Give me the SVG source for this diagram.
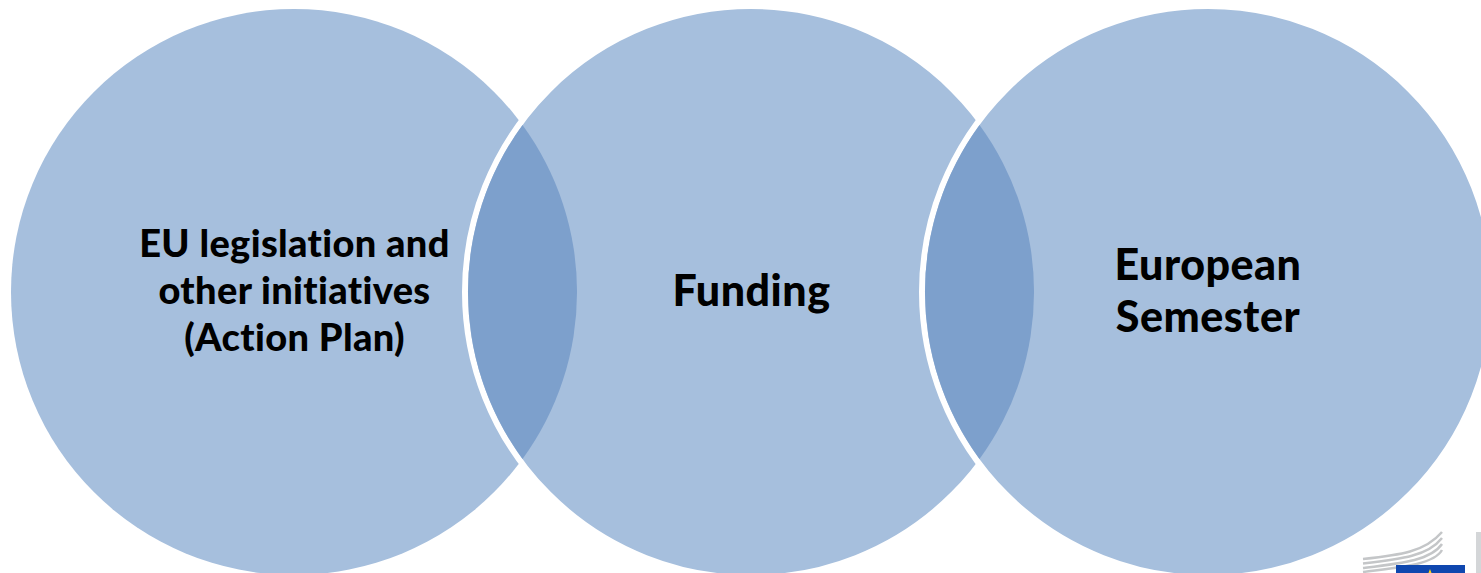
<svg xmlns="http://www.w3.org/2000/svg" width="1481" height="573" viewBox="0 0 1481 573">
<style>
.c{fill:#a6bfdd}
.s{stroke:#fff;stroke-width:6}
.l{fill:#7da0cc}
text{font-family:"Lato","Carlito","Open Sans",sans-serif;font-weight:900;fill:#000;text-anchor:middle;font-variant-ligatures:none}
.a{font-size:38px;letter-spacing:.35px}
.b{font-size:43px;letter-spacing:.5px}
.g{fill:none;stroke:#c4c6c8;stroke-width:2.500}
</style>
<rect width="1481" height="573" fill="#fff"/>
<g id="node-legislation"><circle class="c" cx="294" cy="292" r="283"/></g>
<g id="node-funding"><circle class="c s" cx="751" cy="292" r="286"/></g>
<g id="node-semester"><circle class="c s" cx="1208" cy="292" r="286"/></g>
<g id="overlaps">
<path class="l" d="M522.5 125A283 283 0 0 1 522.5 459A283 283 0 0 1 522.5 125Z"/>
<path class="l" d="M979.5 125A283 283 0 0 1 979.5 459A283 283 0 0 1 979.5 125Z"/>
</g>
<g id="labels">
<text class="a" x="294.500" y="257">EU legislation and</text>
<text class="a" x="294.500" y="304">other initiatives</text>
<text class="a" x="294.500" y="351">(Action Plan)</text>
<text class="b" x="751.500" y="306">Funding</text>
<text class="b" x="1208" y="280">European</text>
<text class="b" x="1208" y="332">Semester</text>
</g>
<g id="logo">
<path class="g" d="M1363 559C1400 555 1425 552 1442 532"/>
<path class="g" d="M1363 563.500C1402 559 1428 556 1442 538"/>
<path class="g" d="M1363 568C1404 563 1431 560 1442 544"/>
<path class="g" d="M1363 572C1404 567 1434 564 1442 550"/>
<rect x="1396" y="565" width="69" height="8" fill="#0f47af"/>
<path d="M1430 569l1.500 4h-3z" fill="#ffd617"/>
<rect x="1476" y="532" width="5" height="41" fill="#d4d6d8"/>
</g>
</svg>
